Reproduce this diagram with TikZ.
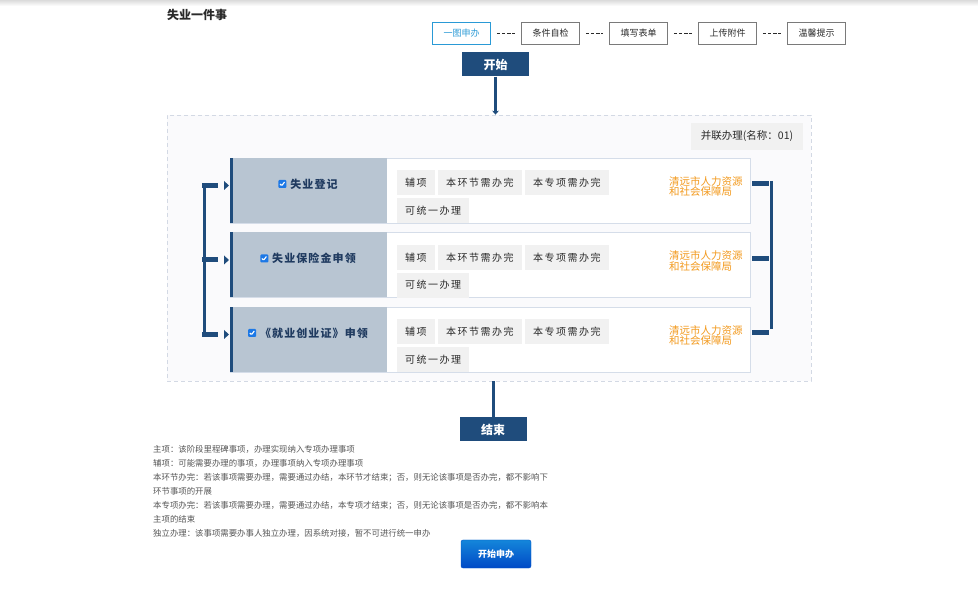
\documentclass[tikz,border=0pt]{standalone}
\usepackage{fontspec}
\setmainfont{Noto Sans CJK SC}
\usetikzlibrary{arrows.meta,positioning,calc,shadows}
\definecolor{azulesc}{HTML}{1F4C7C}
\definecolor{azultab}{HTML}{2A9AD6}
\definecolor{azultexto}{HTML}{203B60}
\definecolor{cinzaazul}{HTML}{B8C5D2}
\definecolor{cinzatab}{HTML}{7A7A7A}
\definecolor{cinzatag}{HTML}{F1F1F1}
\definecolor{fundo}{HTML}{FAFAFC}
\definecolor{bordaponto}{HTML}{D3D9E4}
\definecolor{bordacartao}{HTML}{D5DDE9}
\definecolor{laranja}{HTML}{F39A1E}
\definecolor{texto}{HTML}{2A2A2A}
\definecolor{nota}{HTML}{555555}
\definecolor{botaocima}{HTML}{1486DA}
\definecolor{botaobaixo}{HTML}{0049C6}
\definecolor{caixa}{HTML}{1C78E6}

\begin{document}
\begin{tikzpicture}[x=1pt, y=-1pt,
  aba/.style={draw=cinzatab, line width=0.9pt, fill=white, minimum width=58pt,
              minimum height=22pt, inner sep=0pt, text=texto,
              font=\fontsize{9}{10}\selectfont},
  tracinho/.style={texto, line width=0.8pt, dash pattern=on 3.4pt off 1.7pt,
                   shorten <=6pt, shorten >=6pt},
  marco/.style={fill=azulesc, text=white, minimum width=67pt, minimum height=24pt,
                inner sep=0pt, font=\bfseries\fontsize{12}{14}\selectfont},
  seta/.style={azulesc, line width=3pt, -{Stealth[length=4pt,width=7pt]}},
  linha/.style={azulesc, line width=3pt},
  tracejado/.style={draw=bordaponto, fill=fundo, line width=0.8pt,
                    dash pattern=on 4pt off 3pt, minimum width=644pt,
                    minimum height=266pt, inner sep=0pt},
  paralelo/.style={fill=cinzatag, text=texto, minimum width=112pt, minimum height=27pt,
                   inner sep=0pt, font=\fontsize{10.5}{12}\selectfont},
  cartao/.style={draw=bordacartao, fill=white, minimum width=520pt, minimum height=65pt,
                 inner sep=0pt, drop shadow={shadow xshift=0.6pt, shadow yshift=-0.8pt,
                 fill=black!12}},
  secao/.style={fill=cinzaazul, minimum width=157pt, minimum height=65pt, inner sep=0pt,
                anchor=north west},
  rotulo/.style={text=azultexto, inner sep=0pt,
                 font=\bfseries\fontsize{11}{12}\selectfont\addfontfeature{LetterSpace=10}},
  caixinha/.style={fill=caixa, rounded corners=1pt, minimum size=8pt,
                   inner sep=0pt,
                   path picture={\draw[white, line width=1.1pt]
                     ($(path picture bounding box.center)+(-2.4,0)$) -- ++(1.6,1.8) -- ++(2.9,-3.8);}},
  etiqueta/.style={fill=cinzatag, text=texto, minimum height=25pt, inner xsep=8pt,
                   inner ysep=0pt, anchor=north west,
                   font=\fontsize{10}{12}\selectfont\addfontfeature{LetterSpace=15}},
  orgao/.style={text=laranja, align=left, anchor=west, inner sep=0pt,
                font=\fontsize{10.5}{10.5}\selectfont},
  barra/.style={azulesc, line width=5pt},
  espinha/.style={azulesc, line width=3pt},
  botao/.style={draw=botaobaixo!80!botaocima, rounded corners=2pt, top color=botaocima,
                bottom color=botaobaixo, minimum width=70pt, minimum height=28pt,
                inner sep=0pt, text=white, font=\bfseries\fontsize{9}{10}\selectfont}
]
\useasboundingbox (0,0) rectangle (978,593);
\shade[top color=black!14, bottom color=white] (0,0) rectangle (978,6);

% cabecalho e abas
\node[anchor=west, inner sep=0pt, text=texto, font=\bfseries\fontsize{12}{14}\selectfont]
  (titulo) at (167,15) {失业一件事};
\node[aba, draw=azultab, text=azultab] (t1) at (461.5,33.5) {一图申办};
\node[aba] (t2) at (550.5,33.5) {条件自检};
\node[aba] (t3) at (638.5,33.5) {填写表单};
\node[aba] (t4) at (727.5,33.5) {上传附件};
\node[aba] (t5) at (816.5,33.5) {温馨提示};
\foreach \i/\j in {1/2,2/3,3/4,4/5}
  \draw[tracinho] (t\i) -- (t\j);

% inicio
\node[marco] (inicio) at (495.5,64.5) {开始};
\node[tracejado] (grupo) at (489,248) {};
\draw[seta] (inicio) -- (inicio |- grupo.north);
\node[paralelo] (par) at (747,136.5) {并联办理(名称：01)};

% cartoes
\foreach \Y/\nome [count=\r] in {158/失业登记, 232.5/失业保险金申领, 307/《就业创业证》申领} {
  \node[cartao] (c\r) at (490,\Y+32.5) {};
  \node[secao] (s\r) at (c\r.north west) {};
  \fill[azulesc] (c\r.north west) rectangle ++(3.5,65);
  \node[rotulo] (n\r) at ($(s\r.center)+(5.5,-6.5)$) {\nome};
  \node[caixinha, left=3.5pt of n\r] (k\r) {};
  \node[etiqueta] (a\r) at (397,\Y+12) {辅项};
  \node[etiqueta, right=3pt of a\r] (b\r) {本环节需办完};
  \node[etiqueta, right=3pt of b\r] (p\r) {本专项需办完};
  \node[etiqueta] (u\r) at (397,\Y+40) {可统一办理};
  \node[orgao] (o\r) at (669,\Y+28.5) {清远市人力资源\\和社会保障局};
  \coordinate (e\r) at (204.5,\Y+27.5);
  \coordinate (d\r) at (771.5,\Y+26);
  \draw[barra] ($(e\r)+(-2.5,0)$) -- ++(16,0);
  \fill[azulesc] ($(e\r)+(19.5,-4.5)$) -- ++(5,4.5) -- ++(-5,4.5) -- cycle;
  \draw[barra] ($(d\r)+(-19.5,0)$) -- ++(17,0);
}
\draw[espinha] (e1) -- (e3);
\draw[espinha] ($(d1)+(0,-3)$) -- ($(d3)+(0,-4)$);

% fim
\node[marco] (fim) at (493,429.5) {结束};
\draw[linha] (grupo.south -| fim) -- (fim);

% legenda
\node[anchor=base west, align=left, inner sep=0pt, text=nota,
      font=\fontsize{8.4}{14}\selectfont] (legenda) at (153,536.2)
  {主项：该阶段里程碑事项，办理实现纳入专项办理事项\\
   辅项：可能需要办理的事项，办理事项纳入专项办理事项\\
   本环节办完：若该事项需要办理，需要通过办结，本环节才结束；否，则无论该事项是否办完，都不影响下\\
   环节事项的开展\\
   本专项办完：若该事项需要办理，需要通过办结，本专项才结束；否，则无论该事项是否办完，都不影响本\\
   主项的结束\\
   独立办理：该事项需要办事人独立办理，因系统对接，暂不可进行统一申办};
\node[botao] (iniciar) at (496,554) {开始申办};
\end{tikzpicture}
\end{document}
